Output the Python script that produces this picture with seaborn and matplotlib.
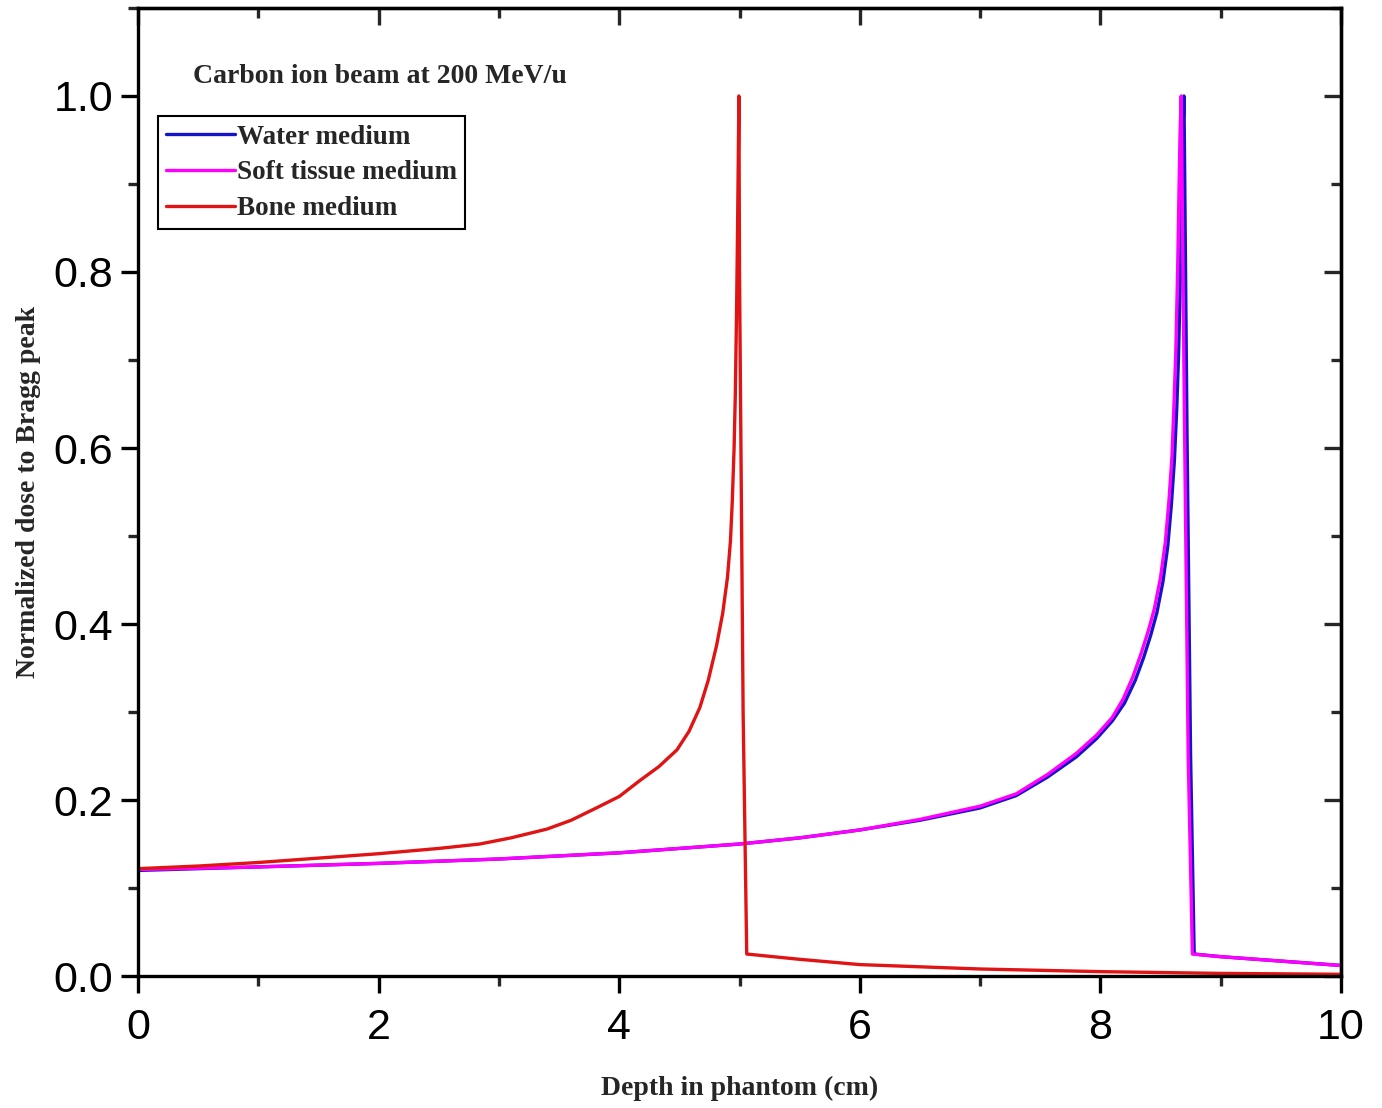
import numpy as np
import pandas as pd
import matplotlib
matplotlib.use("Agg")
import matplotlib.pyplot as plt
import seaborn as sns
from matplotlib.ticker import MultipleLocator, FormatStrFormatter

# ---- data ----
water_depth = [0.0, 1.0, 2.0, 3.0, 4.0, 5.0, 5.5, 6.0, 6.5, 7.0, 7.3, 7.56, 7.8, 7.97,
               8.1, 8.2, 8.29, 8.36, 8.42, 8.47, 8.52, 8.56, 8.59, 8.615, 8.635,
               8.65, 8.665, 8.675, 8.685, 8.695, 8.72, 8.75, 8.78, 9.0, 9.5, 10.0]
water_dose = [0.120, 0.124, 0.128, 0.133, 0.140, 0.150, 0.157, 0.166, 0.177, 0.191,
              0.205, 0.226, 0.249, 0.270, 0.290, 0.310, 0.336, 0.362, 0.388, 0.413,
              0.448, 0.488, 0.535, 0.585, 0.645, 0.705, 0.795, 0.875, 0.950, 1.0,
              0.62, 0.25, 0.025, 0.022, 0.017, 0.012]

soft_depth = [0.0, 1.0, 2.0, 3.0, 4.0, 5.0, 5.5, 6.0, 6.5, 7.0, 7.3, 7.56, 7.8, 7.97,
              8.1, 8.19, 8.27, 8.34, 8.40, 8.45, 8.50, 8.54, 8.57, 8.595, 8.612,
              8.627, 8.642, 8.652, 8.662, 8.672, 8.70, 8.73, 8.765, 9.0, 9.5, 10.0]
soft_dose = [0.121, 0.124, 0.128, 0.133, 0.140, 0.150, 0.157, 0.166, 0.178, 0.193,
             0.207, 0.229, 0.253, 0.274, 0.294, 0.315, 0.340, 0.367, 0.393, 0.418,
             0.453, 0.493, 0.540, 0.590, 0.650, 0.710, 0.800, 0.880, 0.955, 1.0,
             0.62, 0.25, 0.025, 0.022, 0.017, 0.012]

bone_depth = [0.0, 0.5, 1.0, 1.5, 2.0, 2.5, 2.84, 3.1, 3.4, 3.6, 3.81, 4.0, 4.17,
              4.33, 4.48, 4.58, 4.67, 4.74, 4.81, 4.86, 4.90, 4.925, 4.94, 4.955,
              4.965, 4.975, 4.983, 4.99, 4.995, 5.00, 5.03, 5.06, 5.5, 6.0, 7.0,
              8.0, 9.0, 10.0]
bone_dose = [0.122, 0.125, 0.129, 0.134, 0.139, 0.145, 0.150, 0.157, 0.167, 0.177,
             0.191, 0.204, 0.222, 0.238, 0.257, 0.278, 0.305, 0.336, 0.376, 0.412,
             0.453, 0.495, 0.540, 0.600, 0.660, 0.750, 0.840, 0.930, 1.0, 0.80,
             0.30, 0.025, 0.019, 0.013, 0.008, 0.005, 0.003, 0.002]

series_names = ["Water medium", "Soft tissue medium", "Bone medium"]
series_colors = ["#1414c8", "#ff00ff", "#e01414"]

title_text = "Carbon ion beam at 200 MeV/u"
x_label = "Depth in phantom (cm)"
y_label = "Normalized dose to Bragg peak"

df = pd.concat([
    pd.DataFrame({"depth": water_depth, "dose": water_dose, "medium": series_names[0]}),
    pd.DataFrame({"depth": soft_depth, "dose": soft_dose, "medium": series_names[1]}),
    pd.DataFrame({"depth": bone_depth, "dose": bone_dose, "medium": series_names[2]}),
], ignore_index=True)

sns.set_style("ticks")
plt.rcParams["font.family"] = ["Liberation Sans", "DejaVu Sans"]

fig = plt.figure(figsize=(13.82, 11.08), dpi=100)
ax = fig.add_axes([0.0999, 0.1191, 0.8704, 0.8737])

sns.lineplot(data=df, x="depth", y="dose", hue="medium", hue_order=series_names,
             palette=dict(zip(series_names, series_colors)), sort=False,
             estimator=None, linewidth=2.4, ax=ax, legend=True)

ax.set_xlim(0, 10)
ax.set_ylim(0, 1.1)
ax.xaxis.set_major_locator(MultipleLocator(2))
ax.xaxis.set_minor_locator(MultipleLocator(1))
ax.yaxis.set_major_locator(MultipleLocator(0.2))
ax.yaxis.set_minor_locator(MultipleLocator(0.1))
ax.yaxis.set_major_formatter(FormatStrFormatter("%.1f"))

for s in ax.spines.values():
    s.set_linewidth(2.4)
    s.set_color("black")
    s.set_visible(True)

ax.tick_params(which="major", direction="out", length=12, width=2.4,
               labelsize=31, colors="black")
ax.tick_params(axis="x", which="major", pad=11)
ax.tick_params(axis="y", which="major", pad=6)
ax.tick_params(which="minor", direction="out", length=7, width=2.4)

# inward ticks on top and right
secx = ax.secondary_xaxis("top")
secx.xaxis.set_major_locator(MultipleLocator(2))
secx.xaxis.set_minor_locator(MultipleLocator(1))
secx.tick_params(which="major", direction="in", length=12, width=2.4, labeltop=False)
secx.tick_params(which="minor", direction="in", length=7, width=2.4)
secx.spines["top"].set_linewidth(2.4)
secy = ax.secondary_yaxis("right")
secy.yaxis.set_major_locator(MultipleLocator(0.2))
secy.yaxis.set_minor_locator(MultipleLocator(0.1))
secy.tick_params(which="major", direction="in", length=12, width=2.4, labelright=False)
secy.tick_params(which="minor", direction="in", length=7, width=2.4)
secy.spines["right"].set_linewidth(2.4)

serif = ["Liberation Serif", "DejaVu Serif"]
ax.set_xlabel(x_label, fontsize=20, fontweight="bold", family=serif, labelpad=20)
ax.set_ylabel(y_label, fontsize=20, fontweight="bold", family=serif, labelpad=9)

ax.text(0.046, 0.929, title_text, transform=ax.transAxes, fontsize=20,
        fontweight="bold", family=serif, ha="left", va="center")

handles, labels = ax.get_legend_handles_labels()
leg = ax.legend(handles, labels, loc="upper left", bbox_to_anchor=(0.0166, 0.888),
                frameon=True, fancybox=False, edgecolor="black", framealpha=1,
                prop={"family": serif, "weight": "bold", "size": 19.5},
                handlelength=2.55, handletextpad=0.05, labelspacing=0.40,
                borderpad=0.3, borderaxespad=0)
leg.get_frame().set_linewidth(1.5)
for ln in leg.get_lines():
    ln.set_linewidth(2.4)

fig.savefig("out.png", dpi=100, facecolor="white")
